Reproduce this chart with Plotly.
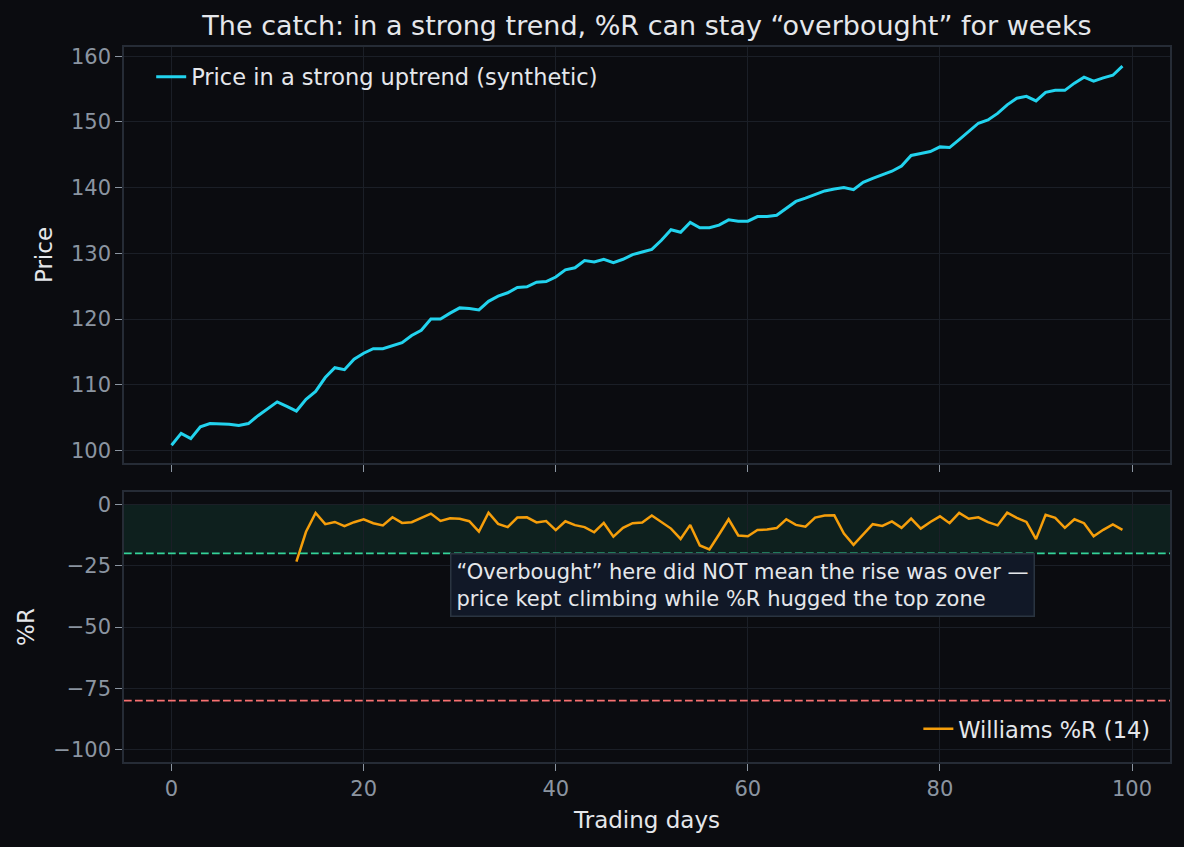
import plotly.graph_objects as go
from plotly.subplots import make_subplots

# synthetic strong uptrend
days = list(range(100))
price = [100.8, 102.6, 101.8, 103.6, 104.1, 104.1, 104.0, 103.8, 104.1, 105.3,
         106.3, 107.4, 106.7, 106.0, 107.8, 109.0, 111.1, 112.6, 112.3, 113.9,
         114.8, 115.5, 115.5, 116.0, 116.4, 117.5, 118.3, 120.0, 120.0, 120.9,
         121.7, 121.6, 121.4, 122.7, 123.5, 124.0, 124.8, 124.9, 125.6, 125.7,
         126.4, 127.5, 127.8, 128.9, 128.7, 129.1, 128.6, 129.1, 129.8, 130.2,
         130.6, 132.0, 133.6, 133.2, 134.7, 133.9, 133.9, 134.3, 135.1, 134.9,
         134.9, 135.6, 135.6, 135.8, 136.8, 137.9, 138.4, 139.0, 139.5, 139.8,
         140.0, 139.7, 140.8, 141.4, 141.9, 142.5, 143.3, 144.9, 145.2, 145.5,
         146.2, 146.1, 147.3, 148.6, 149.8, 150.3, 151.3, 152.6, 153.6, 153.9,
         153.2, 154.5, 154.8, 154.8, 155.9, 156.8, 156.2, 156.7, 157.1, 158.5]

# Williams %R (14) only exists from day 13 on
wr_days = list(range(13, 100))
williams_r = [-23.4, -11.2, -3.5, -8.1, -7.2, -8.9, -7.3, -6.1, -7.7, -8.6,
              -5.3, -7.6, -7.3, -5.5, -3.8, -6.8, -5.7, -5.9, -6.9, -11.1,
              -3.4, -8.0, -9.3, -5.4, -5.3, -7.4, -6.8, -10.5, -6.9, -8.5,
              -9.3, -11.4, -7.6, -13.2, -9.6, -7.7, -7.4, -4.6, -7.2, -9.9,
              -14.1, -8.4, -16.8, -18.4, -12.3, -6.1, -12.7, -13.0, -10.5, -10.3,
              -9.7, -6.1, -8.4, -9.1, -5.4, -4.6, -4.5, -11.9, -16.5, -12.4,
              -8.1, -8.8, -7.0, -9.6, -5.8, -9.9, -7.2, -4.9, -7.7, -3.5,
              -5.9, -5.3, -7.3, -8.6, -3.4, -5.5, -7.2, -14.2, -4.3, -5.5,
              -9.6, -6.1, -7.7, -13.0, -10.4, -8.2, -10.4]

overbought = -20
oversold = -80
x_ticks = [0, 20, 40, 60, 80, 100]
price_ticks = [100, 110, 120, 130, 140, 150, 160]
wr_ticks = [0, -25, -50, -75, -100]

BG = "#0b0c10"
GRID = "#1b1f27"
SPINE = "#262c36"
TICK = "#8b95a1"
TEXT = "#e5e7eb"
FONT = "DejaVu Sans"

fig = make_subplots(rows=2, cols=1, shared_xaxes=True)

fig.add_trace(go.Scatter(x=days, y=price, mode="lines",
                         name="Price in a strong uptrend (synthetic)",
                         line=dict(color="#22d3ee", width=3),
                         showlegend=True, legend="legend"), row=1, col=1)
fig.add_trace(go.Scatter(x=wr_days, y=williams_r, mode="lines",
                         name="Williams %R (14)",
                         line=dict(color="#f59e0b", width=2.5),
                         showlegend=True, legend="legend2"), row=2, col=1)

# overbought zone + threshold lines
fig.add_shape(type="rect", xref="x2 domain", yref="y2", x0=0, x1=1,
              y0=overbought, y1=0, fillcolor="rgba(52,211,153,0.10)",
              line_width=0, layer="below")
fig.add_shape(type="line", xref="x2 domain", yref="y2", x0=0, x1=1,
              y0=overbought, y1=overbought,
              line=dict(color="#34d399", width=1.6, dash="7.7px,3.3px"))
fig.add_shape(type="line", xref="x2 domain", yref="y2", x0=0, x1=1,
              y0=oversold, y1=oversold,
              line=dict(color="#f87171", width=1.6, dash="7.7px,3.3px"))

fig.add_annotation(xref="x2", yref="y2", x=29.0, y=-33,
                   xanchor="left", yanchor="middle", align="left",
                   text="“Overbought” here did NOT mean the rise was over —<br>"
                        "price kept climbing while %R hugged the top zone",
                   showarrow=False, font=dict(family=FONT, size=21, color=TEXT),
                   bgcolor="#111827", bordercolor="#2a3441", borderwidth=1.5,
                   borderpad=5)

axis_style = dict(showgrid=True, gridcolor=GRID, gridwidth=1.2,
                  showline=True, linecolor=SPINE, linewidth=1.5, mirror=True,
                  ticks="outside", ticklen=7, tickwidth=1.3, tickcolor=TICK,
                  tickfont=dict(family=FONT, size=21, color=TICK),
                  zeroline=False, automargin=False)

fig.update_xaxes(axis_style)
fig.update_yaxes(axis_style)
fig.update_xaxes(range=[-4.95, 103.95], tickvals=x_ticks)
fig.update_xaxes(showticklabels=False, row=1, col=1)
fig.update_xaxes(title=dict(text="Trading days", standoff=12,
                            font=dict(family=FONT, size=23, color=TEXT)),
                 row=2, col=1)
fig.update_yaxes(range=[98.1, 161.4], tickvals=price_ticks,
                 title=dict(text="Price", standoff=12,
                            font=dict(family=FONT, size=23, color=TEXT)),
                 row=1, col=1)
fig.update_yaxes(range=[-105, 5], tickvals=wr_ticks,
                 title=dict(text="%R", standoff=12,
                            font=dict(family=FONT, size=23, color=TEXT)),
                 row=2, col=1)

fig.update_layout(
    width=1184, height=847,
    paper_bgcolor=BG, plot_bgcolor=BG,
    margin=dict(l=124, r=14, t=47, b=85),
    showlegend=True,
    xaxis=dict(domain=[0, 1]), xaxis2=dict(domain=[0, 1]),
    yaxis=dict(domain=[0.4182, 1]), yaxis2=dict(domain=[0, 0.3776]),
    title=dict(text="The catch: in a strong trend, %R can stay “overbought” for weeks",
               x=0.5, xref="paper", y=1 - 26 / 847, yref="container",
               xanchor="center", yanchor="middle",
               font=dict(family=FONT, size=27, color=TEXT)),
    legend=dict(x=0.026, y=0.958, xanchor="left", yanchor="middle",
                bgcolor="rgba(0,0,0,0)", font=dict(family=FONT, size=22.5, color=TEXT)),
    legend2=dict(x=0.986, y=0.046, xanchor="right", yanchor="middle",
                 bgcolor="rgba(0,0,0,0)", font=dict(family=FONT, size=22.5, color=TEXT)),
    font=dict(family=FONT, color=TEXT),
)

# drop the page's default body margin so the figure sits at the window edge
fig.write_html("out.html", config={"displayModeBar": False},
               post_script="document.body.style.margin='0';"
                           "document.body.style.background='#0b0c10';")
